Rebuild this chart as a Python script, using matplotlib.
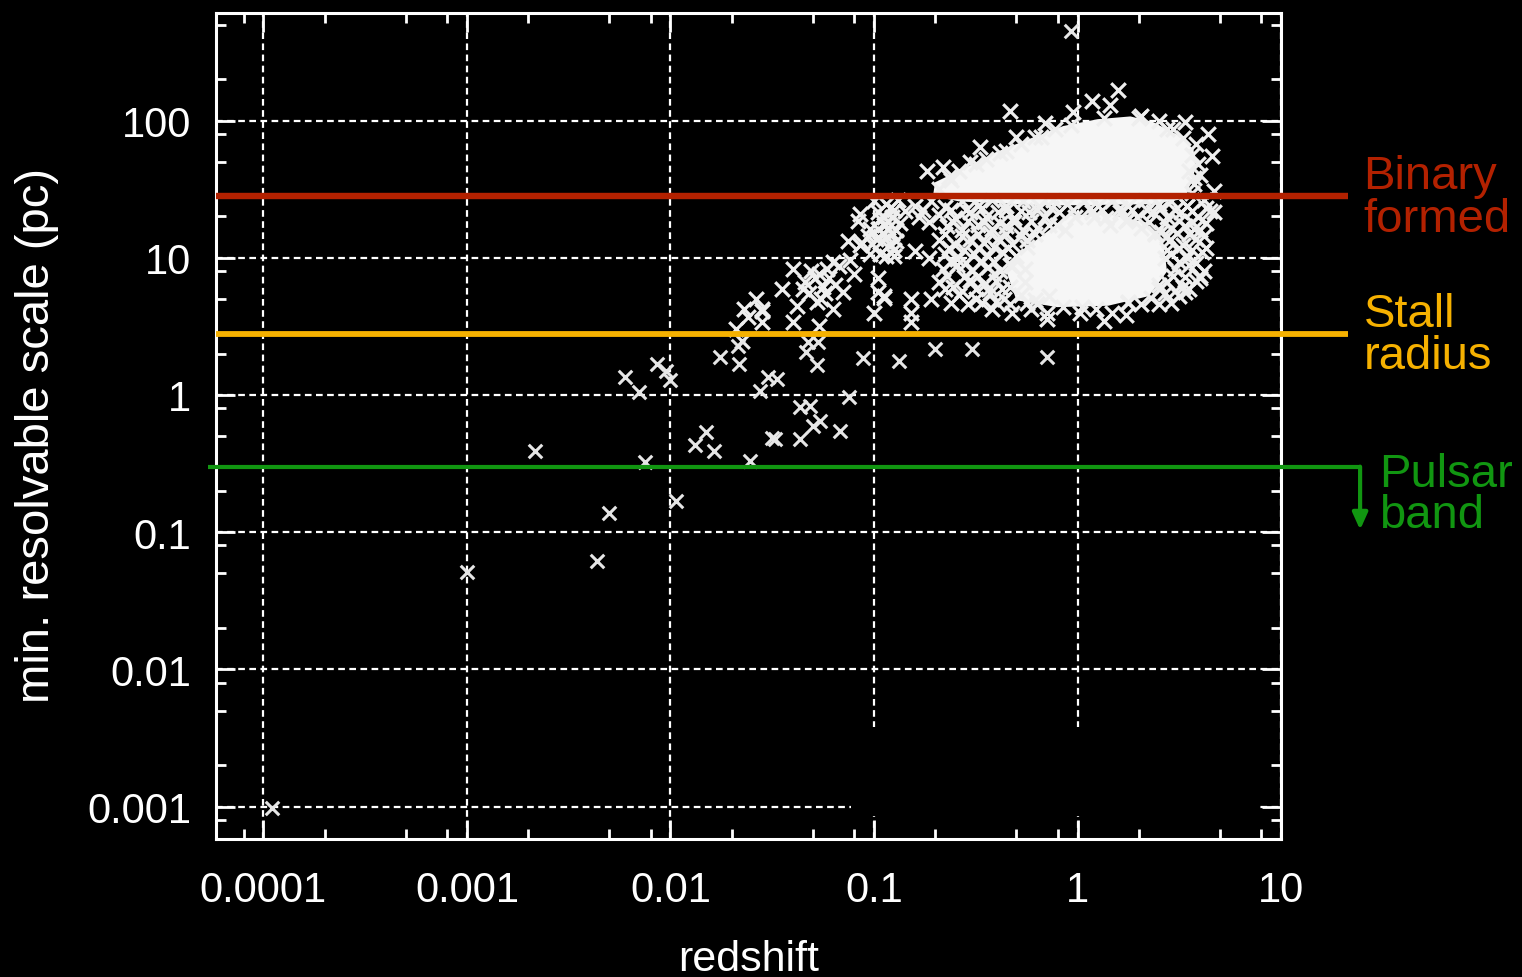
import numpy as np
import matplotlib
matplotlib.use("Agg")
from matplotlib import pyplot as plt
from matplotlib.patches import Rectangle
from matplotlib.ticker import LogLocator, NullFormatter

plt.rcParams['font.family'] = ['Liberation Sans', 'DejaVu Sans']

# isolated points (redshift, scale in pc)
z_pts = [1.1e-4, 0.001, 0.00216, 0.00434, 0.0050, 0.0075, 0.0107, 0.0060, 0.0070, 0.0086,
         0.0095, 0.0100, 0.0175, 0.0215, 0.0218, 0.0149, 0.0132, 0.0164, 0.0246, 0.0275,
         0.0303, 0.0332, 0.0314, 0.0326, 0.0433, 0.0485, 0.0543, 0.0502, 0.0433, 0.068,
         0.0757, 0.0886, 0.0475, 0.0532, 0.0466, 0.0523, 0.133, 0.20, 0.303, 0.708, 0.93]
s_pts = [0.00097, 0.051, 0.39, 0.062, 0.138, 0.325, 0.168, 1.36, 1.05, 1.68,
         1.50, 1.29, 1.90, 2.28, 1.68, 0.54, 0.43, 0.39, 0.33, 1.07,
         1.35, 1.31, 0.485, 0.478, 0.82, 0.83, 0.65, 0.59, 0.478, 0.55,
         0.97, 1.86, 2.43, 2.43, 2.06, 1.65, 1.77, 2.16, 2.16, 1.89, 450]

cloud_top = [(-0.74, 1.63), (-0.66, 1.66), (-0.53, 1.70), (-0.48, 1.81), (-0.30, 1.88),
             (-0.33, 2.07), (-0.16, 1.98), (-0.02, 2.06), (0.07, 2.14), (0.16, 2.11),
             (0.20, 2.22), (0.53, 1.99), (0.64, 1.90), (0.66, 1.74), (0.57, 1.54),
             (0.47, 1.94), (0.67, 1.49), (0.60, 1.60), (-0.63, 1.59), (-0.58, 1.63),
             (-0.45, 1.72), (-0.38, 1.76), (-0.28, 1.83), (-0.21, 1.88), (-0.11, 1.94),
             (0.31, 2.03), (0.40, 2.00), (0.58, 1.83), (0.59, 1.68), (0.55, 1.63),
             (0.54, 1.38), (0.67, 1.33), (0.57, 1.21), (0.60, 0.85), (0.53, 0.75),
             (-0.68, 1.50), (-0.62, 1.57), (-0.50, 1.68), (-0.35, 1.78), (-0.18, 1.88),
             (-0.03, 1.97), (0.13, 2.02), (0.30, 2.02), (0.44, 1.94), (0.52, 1.87),
             (0.56, 1.75), (0.57, 1.58), (0.56, 1.47)]

cloud_low = [(-0.94, 1.39), (-0.88, 1.42), (-0.80, 1.38), (-0.72, 1.41), (-0.65, 1.37),
             (-0.57, 1.41), (-0.49, 1.38), (-0.42, 1.42), (-0.35, 1.38), (-0.27, 1.41),
             (-0.19, 1.38), (-0.12, 1.42), (-0.05, 1.39), (0.03, 1.41), (0.10, 1.38),
             (0.17, 1.41), (0.25, 1.38), (0.33, 1.42), (0.40, 1.39), (0.46, 1.41),
             (0.54, 1.38), (0.62, 1.42),
             (-0.90, 1.35), (-0.76, 1.35), (-0.62, 1.35), (-0.55, 1.35), (-0.47, 1.36),
             (-0.35, 1.35), (-0.28, 1.34), (-0.20, 1.35), (-0.13, 1.36), (-0.02, 1.35),
             (0.06, 1.36), (0.12, 1.35), (0.21, 1.36), (0.27, 1.35), (0.34, 1.35),
             (0.41, 1.36), (0.48, 1.35), (0.56, 1.34), (0.63, 1.36),
             (-0.98, 1.33), (-0.91, 1.30), (-0.85, 1.34), (-0.68, 1.31), (-0.60, 1.29),
             (-0.53, 1.33), (-0.45, 1.30), (-0.39, 1.33), (-0.31, 1.29), (-0.24, 1.33),
             (-0.16, 1.30), (-0.09, 1.33), (-0.01, 1.30), (0.07, 1.33), (0.14, 1.29),
             (0.21, 1.33), (0.29, 1.30), (0.37, 1.33), (0.44, 1.30), (0.51, 1.33),
             (0.59, 1.30), (0.65, 1.34), (-0.78, 1.30), (-0.73, 1.26),
             (-0.93, 1.26), (-0.61, 1.26), (-0.54, 1.27), (-0.46, 1.26), (-0.38, 1.25),
             (-0.31, 1.26), (-0.23, 1.27), (0.24, 1.27), (0.35, 1.26), (0.43, 1.25),
             (0.50, 1.27), (0.56, 1.26), (0.63, 1.25),
             (-1.02, 1.21), (-0.95, 1.24), (-0.89, 1.20), (-0.64, 1.23), (-0.57, 1.20),
             (-0.49, 1.24), (-0.42, 1.21), (-0.35, 1.23), (-0.27, 1.20), (-0.20, 1.22),
             (-0.14, 1.24), (-0.06, 1.20), (0.16, 1.24), (0.31, 1.22), (0.41, 1.19),
             (0.46, 1.22), (0.53, 1.23), (0.60, 1.20),
             (-0.95, 1.17), (-0.65, 1.17), (-0.57, 1.16), (-0.49, 1.17), (-0.43, 1.18),
             (-0.35, 1.17), (-0.28, 1.16), (-0.21, 1.17), (0.38, 1.17), (0.44, 1.16),
             (0.49, 1.18), (0.55, 1.17), (0.62, 1.16),
             (-1.06, 1.11), (-0.99, 1.14), (-0.92, 1.10), (-0.68, 1.13), (-0.60, 1.09),
             (-0.53, 1.14), (-0.46, 1.11), (-0.39, 1.14), (-0.32, 1.10), (-0.25, 1.13),
             (0.45, 1.12), (0.52, 1.09), (0.58, 1.14),
             (-0.63, 1.07), (-0.56, 1.06), (-0.49, 1.07), (-0.41, 1.08), (-0.34, 1.07),
             (0.44, 1.06), (0.50, 1.07), (0.56, 1.06), (0.63, 1.07), (-0.80, 1.05),
             (-0.97, 1.03), (-0.90, 1.01), (-0.65, 1.03), (-0.59, 0.99), (-0.51, 1.03),
             (-0.44, 1.01), (-0.37, 1.04), (-0.30, 1.01), (0.46, 1.03), (0.54, 1.00),
             (0.61, 1.04), (-0.73, 1.00),
             (-0.62, 0.97), (-0.55, 0.96), (-0.48, 0.97), (-0.41, 0.97), (0.50, 0.97),
             (0.58, 0.96),
             (-0.66, 0.92), (-0.59, 0.95), (-0.52, 0.90), (-0.44, 0.93), (-0.38, 0.90),
             (-0.32, 0.94), (-0.26, 0.92), (0.48, 0.92), (0.55, 0.95), (0.62, 0.90),
             (-0.64, 0.87), (-0.56, 0.86), (-0.49, 0.87), (-0.41, 0.88), (0.47, 0.87),
             (0.53, 0.86), (0.60, 0.87),
             (-0.68, 0.82), (-0.61, 0.79), (-0.53, 0.84), (-0.46, 0.80), (-0.40, 0.83),
             (-0.33, 0.79), (-0.26, 0.82), (0.44, 0.82), (0.52, 0.79), (0.58, 0.83),
             (-0.65, 0.77), (-0.57, 0.76), (-0.50, 0.77), (-0.43, 0.78), (-0.37, 0.77),
             (0.40, 0.77), (0.48, 0.76), (0.55, 0.77),
             (-0.95, 0.72), (-0.82, 0.70), (-0.72, 0.70), (-0.58, 0.73), (-0.50, 0.70),
             (-0.43, 0.74), (-0.36, 0.70), (-0.28, 0.73), (-0.21, 0.69), (-0.14, 0.72),
             (0.36, 0.71), (0.43, 0.74), (0.50, 0.72),
             (-0.62, 0.67), (-0.54, 0.66), (-0.47, 0.67), (-0.40, 0.68), (-0.33, 0.66),
             (-0.25, 0.67), (0.25, 0.67), (0.40, 0.66), (0.46, 0.67),
             (-0.82, 0.60), (-0.42, 0.63), (-0.32, 0.60), (-0.23, 0.63), (-0.15, 0.60),
             (-0.07, 0.64), (0.01, 0.60), (0.09, 0.63), (0.17, 0.60), (0.31, 0.66),
             (-0.82, 0.53), (-0.15, 0.55), (0.13, 0.54), (0.24, 0.58),
             (-0.33, 0.95), (-0.25, 1.08), (-0.10, 1.24), (0.08, 1.30), (0.25, 1.28),
             (0.38, 1.18), (0.43, 1.00), (0.40, 0.80), (0.25, 0.68), (0.02, 0.64),
             (-0.20, 0.66)]

cloud_mid = [(-1.40, 0.92), (-1.31, 0.90), (-1.23, 0.92), (-1.17, 0.94), (-1.45, 0.77),
             (-1.35, 0.77), (-1.25, 0.79), (-1.15, 0.75), (-1.38, 0.65), (-1.28, 0.68),
             (-1.20, 0.63), (-1.40, 0.53), (-1.27, 0.50), (-1.55, 0.63), (-1.55, 0.53),
             (-1.08, 1.27), (-1.13, 1.12), (-1.03, 1.16), (-0.98, 1.21), (-1.07, 1.09),
             (-0.96, 1.12), (-1.00, 1.41), (-0.94, 1.01), (-1.20, 0.97), (-0.98, 0.85),
             (-1.00, 0.60), (-0.98, 0.75), (-1.62, 0.57), (-1.55, 0.61), (-0.95, 0.71),
             (-1.64, 0.63), (-1.58, 0.70), (-1.68, 0.48), (-1.65, 0.39), (-1.07, 1.32),
             (-0.92, 1.36), (-0.87, 1.25), (-1.29, 0.85), (-1.24, 0.74), (-1.32, 0.74),
             (-1.22, 0.85), (-0.97, 1.28), (-0.91, 1.17), (-1.02, 1.03), (-0.90, 1.06),
             (-1.27, 0.88), (-1.19, 0.80), (-1.34, 0.82), (-1.26, 0.70), (-1.10, 0.88),
             (-1.12, 0.98), (-0.93, 1.22), (-1.01, 1.10), (-0.95, 1.30), (-0.89, 1.12)]

# outlines of the saturated (solid white) parts, log10 units
core_upper = [(-0.71, 1.45), (-0.70, 1.55), (-0.56, 1.65), (-0.40, 1.77), (-0.23, 1.87),
              (-0.07, 1.96), (0.10, 2.01), (0.26, 2.03), (0.37, 1.99), (0.50, 1.89),
              (0.57, 1.79), (0.58, 1.65), (0.55, 1.52), (0.53, 1.43), (0.36, 1.39),
              (-0.14, 1.38), (-0.58, 1.41)]
core_lower = [(-0.35, 0.90), (-0.30, 1.02), (-0.14, 1.20), (-0.05, 1.31), (0.15, 1.32),
              (0.33, 1.26), (0.42, 1.12), (0.44, 0.90), (0.35, 0.72), (0.15, 0.65),
              (-0.10, 0.64), (-0.30, 0.69)]

# horizontal reference levels (pc)
binary_level = 28.2
stall_level = 2.78
pulsar_level = 0.30

x_ticks = [1e-4, 1e-3, 1e-2, 0.1, 1, 10]
x_labels = ['0.0001', '0.001', '0.01', '0.1', '1', '10']
y_ticks = [1e-3, 1e-2, 0.1, 1, 10, 100]
y_labels = ['0.001', '0.01', '0.1', '1', '10', '100']

red = '#b32100'
orange = '#f6b100'
green = '#119611'

fig = plt.figure(figsize=(15.22, 9.78), dpi=100, facecolor='black')
ax = fig.add_axes([0.1419, 0.1411, 0.6998, 0.8446])
ax.set_facecolor('black')
ax.set_xscale('log')
ax.set_yscale('log')
ax.set_xlim(5.85e-5, 10)
ax.set_ylim(5.8e-4, 608)

ax.set_xticks(x_ticks, x_labels)
ax.set_yticks(y_ticks, y_labels)
ax.xaxis.set_minor_locator(LogLocator(base=10, subs=(2, 5, 8)))
ax.yaxis.set_minor_locator(LogLocator(base=10, subs=(2, 5, 8)))
ax.xaxis.set_minor_formatter(NullFormatter())
ax.yaxis.set_minor_formatter(NullFormatter())
ax.tick_params(which='both', direction='in', top=True, right=True, colors='white', width=2)
ax.tick_params(which='major', length=13.5, labelsize=30)
ax.tick_params(axis='x', which='major', pad=22)
ax.tick_params(axis='y', which='major', pad=18)
ax.tick_params(which='minor', length=7)
for sp in ax.spines.values():
    sp.set_color('white')
    sp.set_linewidth(2.2)

ax.set_axisbelow(True)
ax.grid(True, which='major', color='white', lw=1.6, ls=(0, (3, 2)))

# blank patch where the key used to be
ax.add_patch(Rectangle((0.077, 8.5e-4), 7.5 - 0.077, 0.0038 - 8.5e-4,
                       facecolor='black', edgecolor='none', zorder=1))

for poly in (core_upper, core_lower):
    lz, ls = zip(*poly)
    ax.fill(np.power(10, lz), np.power(10, ls), color='#f6f6f6', lw=0, zorder=2.5)

cloud = cloud_top + cloud_low + cloud_mid
cz = np.power(10, [p[0] for p in cloud])
cs = np.power(10, [p[1] for p in cloud])
ax.scatter(cz, cs, marker='x', s=110, c='#eeeeee', linewidths=2.3, zorder=3)
ax.scatter(z_pts, s_pts, marker='x', s=95, c='#e6e6e6', linewidths=2.2, zorder=3)

trans = ax.get_yaxis_transform()
ax.plot([0, 1.063], [binary_level] * 2, transform=trans, color=red, lw=4.6,
        clip_on=False, zorder=4, solid_capstyle='butt')
ax.plot([0, 1.063], [stall_level] * 2, transform=trans, color=orange, lw=4.2,
        clip_on=False, zorder=4, solid_capstyle='butt')
ax.plot([-0.0075, 1.0755], [pulsar_level] * 2, transform=trans, color=green, lw=3,
        clip_on=False, zorder=4, solid_capstyle='butt')
ax.annotate('', xy=(1.0742, 0.104), xytext=(1.0742, pulsar_level), xycoords=trans,
            textcoords=trans, annotation_clip=False,
            arrowprops=dict(arrowstyle='-|>,head_length=1.0,head_width=0.45', color=green,
                            lw=3, shrinkA=0, shrinkB=0))

ax.text(1.077, 27.5, 'Binary\nformed', transform=trans, color=red, fontsize=34,
        va='center', ha='left', linespacing=0.95)
ax.text(1.078, 2.75, 'Stall\nradius', transform=trans, color=orange, fontsize=34,
        va='center', ha='left', linespacing=0.95)
ax.text(1.092, 0.187, 'Pulsar\nband', transform=trans, color=green, fontsize=34,
        va='center', ha='left', linespacing=0.92)

fig.text(0.4921, 0.0072, 'redshift', ha='center', va='baseline', fontsize=31, color='white')
fig.text(0.0243, 0.555, 'min. resolvable scale (pc)', rotation=90, ha='center',
         va='center', fontsize=34, color='white')

fig.savefig('out.png', dpi=100, facecolor='black')
